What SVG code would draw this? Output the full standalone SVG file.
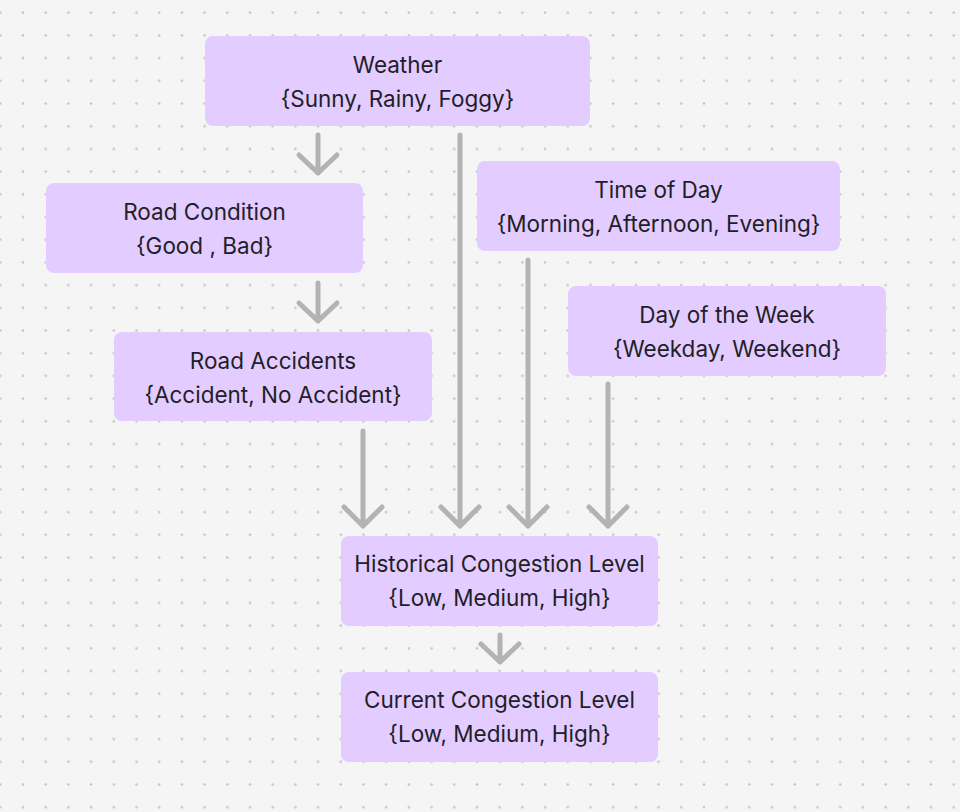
<svg xmlns="http://www.w3.org/2000/svg" width="960" height="812" viewBox="0 0 960 812">
  <defs>
    <pattern id="dots" x="0.3" y="1.35" width="22.7" height="22.7" patternUnits="userSpaceOnUse">
      <circle cx="0" cy="11.35" r="1.3" fill="#c4c4c4"/>
      <circle cx="22.7" cy="11.35" r="1.3" fill="#c4c4c4"/>
    </pattern>
    <style>
      .box { fill: #e3ccff; }
      .t { font-family: Inter, "Noto Sans", "Liberation Sans", sans-serif; font-size: 22.5px; fill: #221e28; text-anchor: middle; }
      .c { fill: none; stroke: #b3b3b3; stroke-width: 5; stroke-linecap: round; stroke-linejoin: round; }
    </style>
  </defs>
  <rect width="960" height="812" fill="#f5f5f5"/>
  <rect width="960" height="812" fill="url(#dots)"/>

  <g id="connectors">
    <path class="c" d="M318 135 V173 M299 155 L318 173 L337 155"/>
    <path class="c" d="M318 283 V321 M299 303 L318 321 L337 303"/>
    <path class="c" d="M363 431 V526 M344 507 L363 526 L382 507"/>
    <path class="c" d="M460 135 V526 M441 507 L460 526 L479 507"/>
    <path class="c" d="M528 260 V526 M509 507 L528 526 L547 507"/>
    <path class="c" d="M608 384 V526 M589 507 L608 526 L627 507"/>
    <path class="c" d="M500 635 V662 M481 644 L500 662 L519 644"/>
  </g>

  <g id="weather">
    <rect class="box" x="205" y="36" width="385" height="90" rx="8"/>
    <text class="t" x="397.5" y="72.5">Weather</text>
    <text class="t" x="397.5" y="106.5">{Sunny, Rainy, Foggy}</text>
  </g>
  <g id="road-condition">
    <rect class="box" x="46" y="183" width="317" height="90" rx="8"/>
    <text class="t" x="204.5" y="219.5">Road Condition</text>
    <text class="t" x="204.5" y="253.5">{Good , Bad}</text>
  </g>
  <g id="road-accidents">
    <rect class="box" x="114" y="332" width="318" height="89" rx="8"/>
    <text class="t" x="273" y="368.5">Road Accidents</text>
    <text class="t" x="273" y="402.5">{Accident, No Accident}</text>
  </g>
  <g id="time-of-day">
    <rect class="box" x="477" y="161" width="363" height="90" rx="8"/>
    <text class="t" x="658.5" y="197.5">Time of Day</text>
    <text class="t" x="658.5" y="231.5">{Morning, Afternoon, Evening}</text>
  </g>
  <g id="day-of-week">
    <rect class="box" x="568" y="286" width="318" height="90" rx="8"/>
    <text class="t" x="727" y="322.5">Day of the Week</text>
    <text class="t" x="727" y="356.5">{Weekday, Weekend}</text>
  </g>
  <g id="historical-congestion">
    <rect class="box" x="341" y="536" width="317" height="90" rx="8"/>
    <text class="t" x="499.5" y="572">Historical Congestion Level</text>
    <text class="t" x="499.5" y="606">{Low, Medium, High}</text>
  </g>
  <g id="current-congestion">
    <rect class="box" x="341" y="672" width="317" height="90" rx="8"/>
    <text class="t" x="499.5" y="708">Current Congestion Level</text>
    <text class="t" x="499.5" y="742">{Low, Medium, High}</text>
  </g>
</svg>
